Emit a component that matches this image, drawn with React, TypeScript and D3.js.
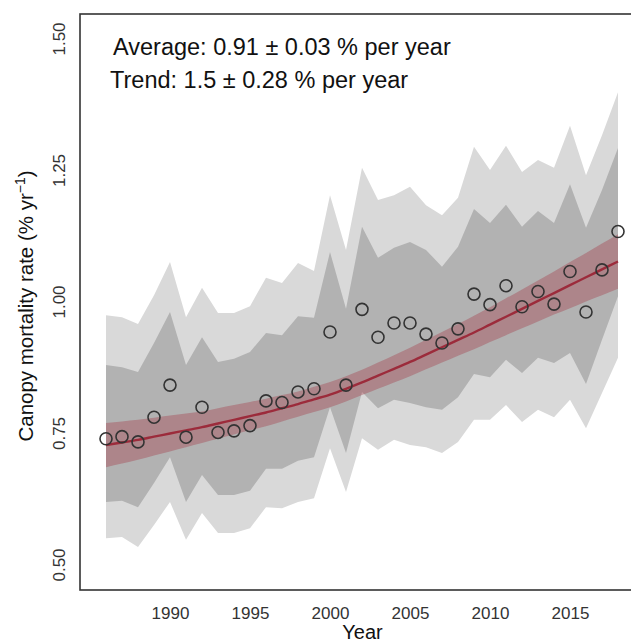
import { useRef, useEffect } from "react";
import * as d3 from "d3";

// yearly values
const years = [
  1986, 1987, 1988, 1989, 1990, 1991, 1992, 1993, 1994, 1995, 1996,
  1997, 1998, 1999, 2000, 2001, 2002, 2003, 2004, 2005, 2006, 2007,
  2008, 2009, 2010, 2011, 2012, 2013, 2014, 2015, 2016, 2017, 2018,
];

const observed = [
  0.74, 0.744, 0.734, 0.781, 0.842, 0.743, 0.8, 0.752, 0.755, 0.765, 0.812,
  0.809, 0.829, 0.835, 0.943, 0.842, 0.986, 0.933, 0.96, 0.96, 0.939, 0.922,
  0.949, 1.015, 0.995, 1.031, 0.991, 1.02, 0.996, 1.058, 0.981, 1.061, 1.134,
];

// light grey band
const outerHigh = [
  0.975, 0.971, 0.958, 1.013, 1.076, 0.971, 1.027, 0.979, 0.979, 0.992, 1.046,
  1.036, 1.074, 1.059, 1.203, 1.099, 1.255, 1.194, 1.203, 1.219, 1.184, 1.165,
  1.198, 1.295, 1.251, 1.297, 1.247, 1.27, 1.255, 1.335, 1.241, 1.317, 1.399,
];
const outerLow = [
  0.551, 0.553, 0.534, 0.576, 0.62, 0.548, 0.599, 0.561, 0.561, 0.57, 0.61,
  0.608, 0.62, 0.627, 0.722, 0.639, 0.741, 0.719, 0.738, 0.728, 0.724, 0.713,
  0.734, 0.776, 0.776, 0.804, 0.772, 0.795, 0.781, 0.814, 0.76, 0.827, 0.894,
];

// dark grey band
const innerHigh = [
  0.88, 0.876, 0.867, 0.922, 0.981, 0.88, 0.933, 0.886, 0.892, 0.905, 0.941,
  0.937, 0.973, 0.97, 1.095, 0.987, 1.143, 1.084, 1.103, 1.114, 1.099, 1.067,
  1.105, 1.177, 1.15, 1.185, 1.143, 1.173, 1.15, 1.224, 1.141, 1.213, 1.293,
];
const innerLow = [
  0.62, 0.622, 0.61, 0.656, 0.705, 0.62, 0.671, 0.633, 0.633, 0.641, 0.683,
  0.683, 0.698, 0.705, 0.8, 0.713, 0.829, 0.798, 0.814, 0.808, 0.8, 0.795,
  0.819, 0.863, 0.857, 0.89, 0.865, 0.894, 0.884, 0.903, 0.844, 0.928, 1.011,
];

// fitted trend and its confidence ribbon
const trend = [
  0.728, 0.733, 0.738, 0.744, 0.75, 0.756, 0.762, 0.769, 0.776, 0.783, 0.79,
  0.798, 0.806, 0.815, 0.824, 0.835, 0.847, 0.86, 0.873, 0.886, 0.9, 0.914,
  0.928, 0.942, 0.957, 0.972, 0.987, 1.002, 1.017, 1.032, 1.047, 1.062, 1.077,
];
const trendLow = [
  0.686, 0.693, 0.7, 0.708, 0.716, 0.724, 0.732, 0.74, 0.748, 0.756, 0.764,
  0.773, 0.782, 0.791, 0.8, 0.811, 0.823, 0.835, 0.847, 0.859, 0.872, 0.885,
  0.898, 0.91, 0.924, 0.937, 0.95, 0.963, 0.976, 0.988, 1.001, 1.013, 1.025,
];
const trendHigh = [
  0.77, 0.773, 0.776, 0.78, 0.784, 0.788, 0.792, 0.798, 0.804, 0.81, 0.816,
  0.823, 0.83, 0.839, 0.848, 0.859, 0.871, 0.885, 0.899, 0.913, 0.928, 0.943,
  0.958, 0.974, 0.99, 1.007, 1.024, 1.041, 1.058, 1.076, 1.093, 1.111, 1.129,
];

const xTicks = [1990, 1995, 2000, 2005, 2010, 2015];
const yTicks = [0.5, 0.75, 1.0, 1.25, 1.5];
const notes = [
  "Average: 0.91 \u00b1 0.03 % per year",
  "Trend: 1.5 \u00b1 0.28 % per year",
];

const FONT = "'Liberation Sans', Arial, Helvetica, sans-serif";

const MortalityChart = () => {
  const svgRef = useRef<SVGSVGElement | null>(null);

  useEffect(() => {
    if (svgRef.current === null) return;
    const svg = d3.select(svgRef.current);
    svg.selectAll("*").remove();

    // plot frame (right edge runs past the window)
    const box = { left: 80, top: 14, right: 645, bottom: 590 };

    const x = d3.scaleLinear().domain([1990, 2015]).range([170, 570]);
    const y = d3.scaleLinear().domain([0.5, 1.5]).range([565, 39]);

    const idx = years.map((_, i) => i);

    const band = (lo: number[], hi: number[]) =>
      d3
        .area<number>()
        .x((i) => x(years[i]))
        .y0((i) => y(lo[i]))
        .y1((i) => y(hi[i]));

    svg
      .append("path")
      .attr("d", band(outerLow, outerHigh)(idx))
      .attr("fill", "#d9d9d9");

    svg
      .append("path")
      .attr("d", band(innerLow, innerHigh)(idx))
      .attr("fill", "#b2b2b2");

    svg
      .append("path")
      .attr("d", band(trendLow, trendHigh).curve(d3.curveMonotoneX)(idx))
      .attr("fill", "#a3303f")
      .attr("fill-opacity", 0.35);

    const line = d3
      .line<number>()
      .x((i) => x(years[i]))
      .y((i) => y(trend[i]))
      .curve(d3.curveMonotoneX);

    svg
      .append("path")
      .attr("d", line(idx))
      .attr("fill", "none")
      .attr("stroke", "#9c2b3b")
      .attr("stroke-width", 2.4);

    svg
      .selectAll("circle.obs")
      .data(idx)
      .enter()
      .append("circle")
      .attr("class", "obs")
      .attr("cx", (i) => x(years[i]))
      .attr("cy", (i) => y(observed[i]))
      .attr("r", 6)
      .attr("fill", "none")
      .attr("stroke", "#333")
      .attr("stroke-width", 1.6);

    svg
      .append("rect")
      .attr("x", box.left)
      .attr("y", box.top)
      .attr("width", box.right - box.left)
      .attr("height", box.bottom - box.top)
      .attr("fill", "none")
      .attr("stroke", "#333")
      .attr("stroke-width", 1.6);

    // x axis: labels only
    const gx = svg
      .append("g")
      .attr("transform", `translate(0,${box.bottom})`)
      .call(d3.axisBottom(x).tickValues(xTicks).tickFormat(d3.format("d")).tickSize(0).tickPadding(0));
    gx.select(".domain").remove();
    gx.selectAll("text")
      .attr("y", 29)
      .attr("dy", null)
      .attr("fill", "#333")
      .style("font-family", FONT)
      .style("font-size", "17px");

    // y axis: rotated labels
    const gy = svg
      .append("g")
      .attr("transform", `translate(65,0)`)
      .call(d3.axisLeft(y).tickValues(yTicks).tickFormat(d3.format(".2f")).tickSize(0));
    gy.select(".domain").remove();
    gy.selectAll("text")
      .attr("x", 0)
      .attr("dy", null)
      .attr("text-anchor", "middle")
      .attr("transform", "rotate(-90)")
      .attr("fill", "#333")
      .style("font-family", FONT)
      .style("font-size", "17px");
    gy.selectAll<SVGGElement, number>(".tick").attr("transform", (d) => `translate(0,${y(d)})`);

    svg
      .append("text")
      .attr("x", (box.left + box.right) / 2)
      .attr("y", 639)
      .attr("text-anchor", "middle")
      .attr("fill", "#111")
      .style("font-family", FONT)
      .style("font-size", "20px")
      .text("Year");

    const yt = svg
      .append("text")
      .attr("transform", `translate(33,306) rotate(-90)`)
      .attr("text-anchor", "middle")
      .attr("fill", "#111")
      .style("font-family", FONT)
      .style("font-size", "20.5px");
    yt.append("tspan").text("Canopy mortality rate (% yr");
    yt.append("tspan").attr("dy", -8).style("font-size", "14px").text("\u22121");
    yt.append("tspan").attr("dy", 8).text(")");

    svg
      .selectAll("text.note")
      .data(notes)
      .enter()
      .append("text")
      .attr("class", "note")
      .attr("x", (_, i) => (i === 0 ? 113 : 110))
      .attr("y", (_, i) => 55 + i * 33)
      .attr("fill", "#111")
      .style("font-family", FONT)
      .style("font-size", "23.5px")
      .text((d) => d);
  }, []);

  return (
    <svg
      ref={svgRef}
      width={631}
      height={643}
      style={{ position: "absolute", left: 0, top: 0, background: "#fff" }}
    />
  );
};

export default function App() {
  return <MortalityChart />;
}
